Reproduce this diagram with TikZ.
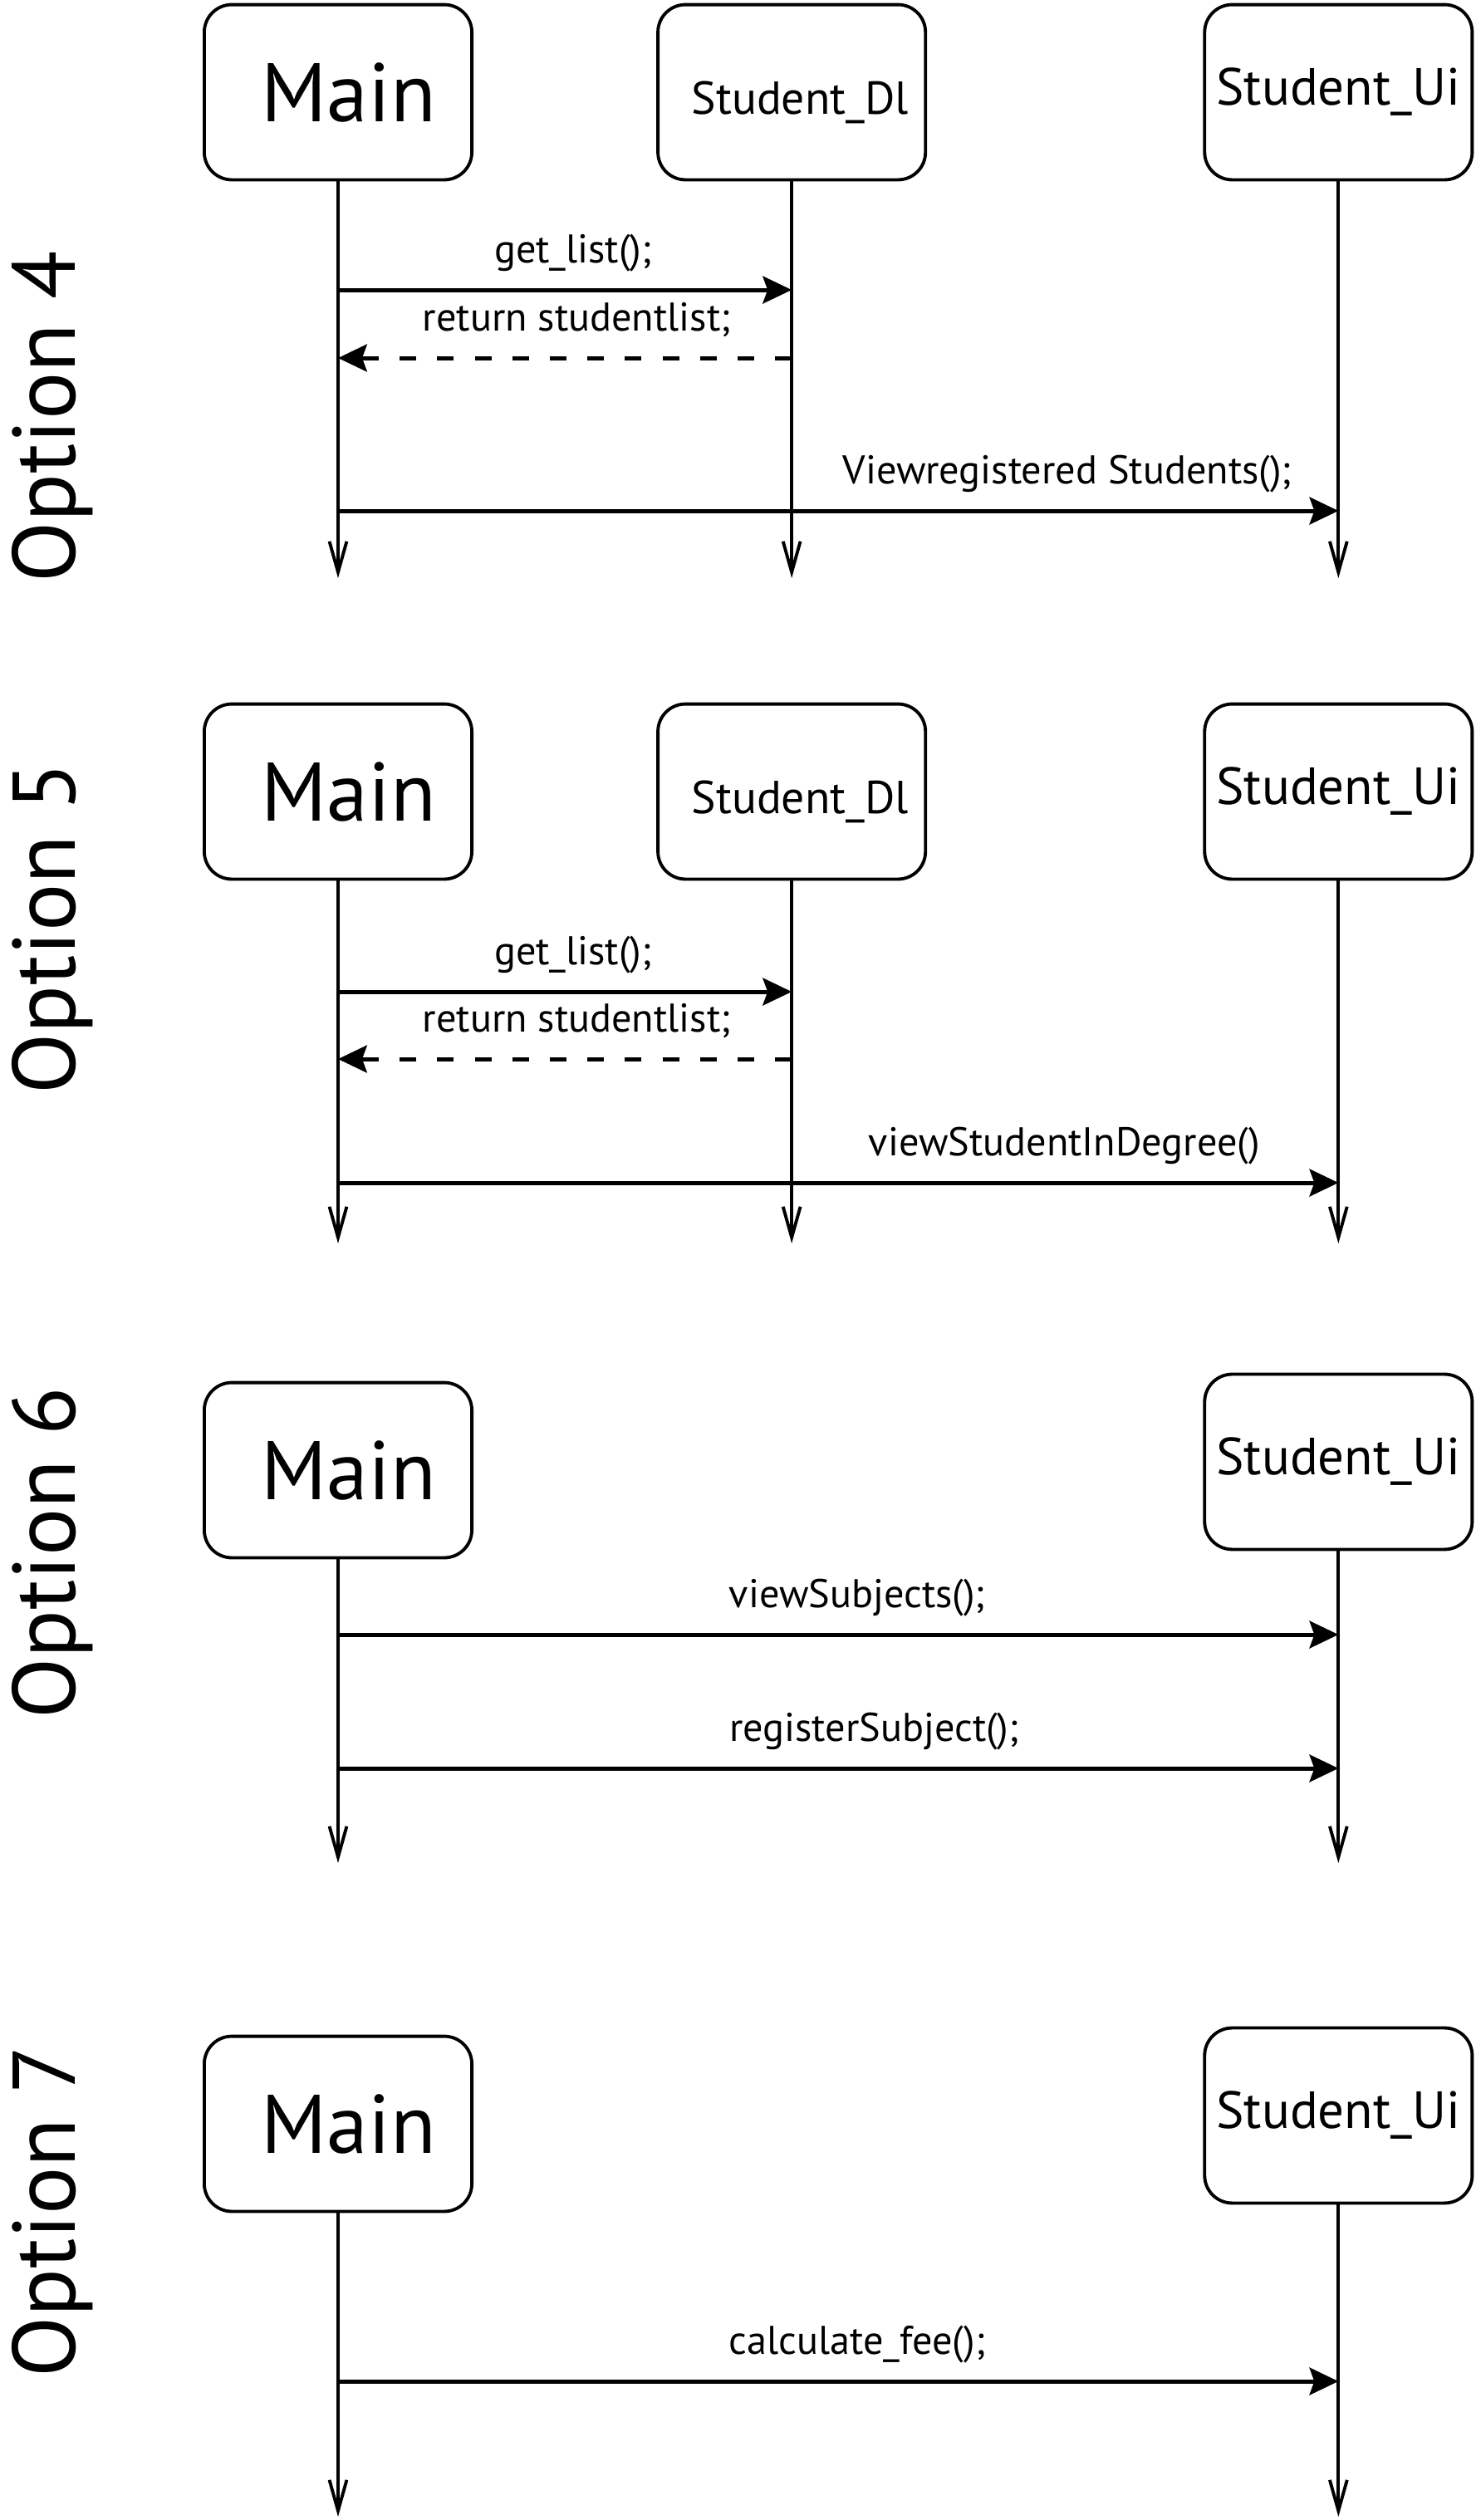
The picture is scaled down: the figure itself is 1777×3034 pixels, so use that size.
\documentclass[tikz,border=0pt]{standalone}
\usepackage{fontspec}
\setmainfont{PT Sans}
\usetikzlibrary{positioning,arrows.meta}

\begin{document}
\begin{tikzpicture}[x=0.2589pt, y=-0.2589pt,
      obj/.style={draw, line width=1pt, rounded corners=8.6pt, minimum width=83.4pt, minimum height=54.6pt, inner sep=0pt},
      big/.style={font=\fontsize{25.9}{30}\selectfont},
      mid/.style={font=\fontsize{16.3}{19}\selectfont},
      small/.style={font=\fontsize{14.4}{17}\selectfont},
      life/.style={line width=1pt, -{Straight Barb[length=9.6pt,width=5.4pt]}},
      msg/.style={line width=1.3pt, -{Stealth[length=9pt,width=8.5pt,inset=1.5pt]}},
      ret/.style={msg, dash pattern=on 5.2pt off 6.5pt},
      lbl/.style={font=\fontsize{12.5}{15}\selectfont, anchor=base, yshift=8.3pt, inner sep=0pt},
      opt/.style={font=\fontsize{27.7}{32}\selectfont, rotate=90, anchor=base, inner sep=0pt}]
    \useasboundingbox (0,0) rectangle (1777,3034);

    % Option 4
    \node[opt] (o4) at (90,502) {Option 4};
    \node[obj, big] (m4) at (407,111) {\hspace*{6.7pt}Main};
    \node[obj, small, right=57pt of m4] (d4) {\hspace*{5.2pt}\raisebox{-3.1pt}[\height][\depth]{Student\_Dl}};
    \node[obj, mid, right=86pt of d4] (u4) {Student\_Ui};
    \coordinate (e4) at (0,696);
    \draw[life] (m4.south) -- (m4.south |- e4);
    \draw[life] (d4.south) -- (d4.south |- e4);
    \draw[life] (u4.south) -- (u4.south |- e4);
    \coordinate (a41) at (0,349);
    \coordinate (a42) at (0,431);
    \coordinate (a43) at (0,615);
    \draw[msg] (m4 |- a41) -- node[lbl, pos=.518] {get\_list();} (d4 |- a41);
    \draw[ret] (d4 |- a42) -- node[lbl, pos=.474] {return studentlist;} (m4 |- a42);
    \draw[msg] (m4 |- a43) -- node[lbl, pos=.729] {Viewregistered Students();} (u4 |- a43);

    % Option 5
    \node[opt] (o5) at (90,1118) {Option 5};
    \node[obj, big] (m5) at (407,953) {\hspace*{6.7pt}Main};
    \node[obj, small, right=57pt of m5] (d5) {\hspace*{5.2pt}\raisebox{-3.1pt}[\height][\depth]{Student\_Dl}};
    \node[obj, mid, right=86pt of d5] (u5) {Student\_Ui};
    \coordinate (e5) at (0,1497);
    \draw[life] (m5.south) -- (m5.south |- e5);
    \draw[life] (d5.south) -- (d5.south |- e5);
    \draw[life] (u5.south) -- (u5.south |- e5);
    \coordinate (a51) at (0,1194);
    \coordinate (a52) at (0,1275);
    \coordinate (a53) at (0,1424);
    \draw[msg] (m5 |- a51) -- node[lbl, pos=.518] {get\_list();} (d5 |- a51);
    \draw[ret] (d5 |- a52) -- node[lbl, pos=.474] {return studentlist;} (m5 |- a52);
    \draw[msg] (m5 |- a53) -- node[lbl, pos=.726] {viewStudentInDegree()} (u5 |- a53);

    % Option 6
    \node[opt] (o6) at (90,1870) {Option 6};
    \node[obj, big] (m6) at (407,1770) {\hspace*{6.7pt}Main};
    \node[obj, mid, right=227.4pt of m6, yshift=2.6pt] (u6) {Student\_Ui};
    \coordinate (e6) at (0,2243);
    \draw[life] (m6.south) -- (m6.south |- e6);
    \draw[life] (u6.south) -- (u6.south |- e6);
    \coordinate (a61) at (0,1968);
    \coordinate (a62) at (0,2129);
    \draw[msg] (m6 |- a61) -- node[lbl, pos=.519] {viewSubjects();} (u6 |- a61);
    \draw[msg] (m6 |- a62) -- node[lbl, pos=.536] {registerSubject();} (u6 |- a62);

    % Option 7
    \node[opt] (o7) at (90,2663) {Option 7};
    \node[obj, big] (m7) at (407,2557) {\hspace*{6.7pt}Main};
    \node[obj, mid, right=227.4pt of m7, yshift=2.6pt] (u7) {Student\_Ui};
    \coordinate (e7) at (0,3030);
    \draw[life] (m7.south) -- (m7.south |- e7);
    \draw[life] (u7.south) -- (u7.south |- e7);
    \coordinate (a71) at (0,2867);
    \draw[msg] (m7 |- a71) -- node[lbl, pos=.519] {calculate\_fee();} (u7 |- a71);
  \end{tikzpicture}
\end{document}
